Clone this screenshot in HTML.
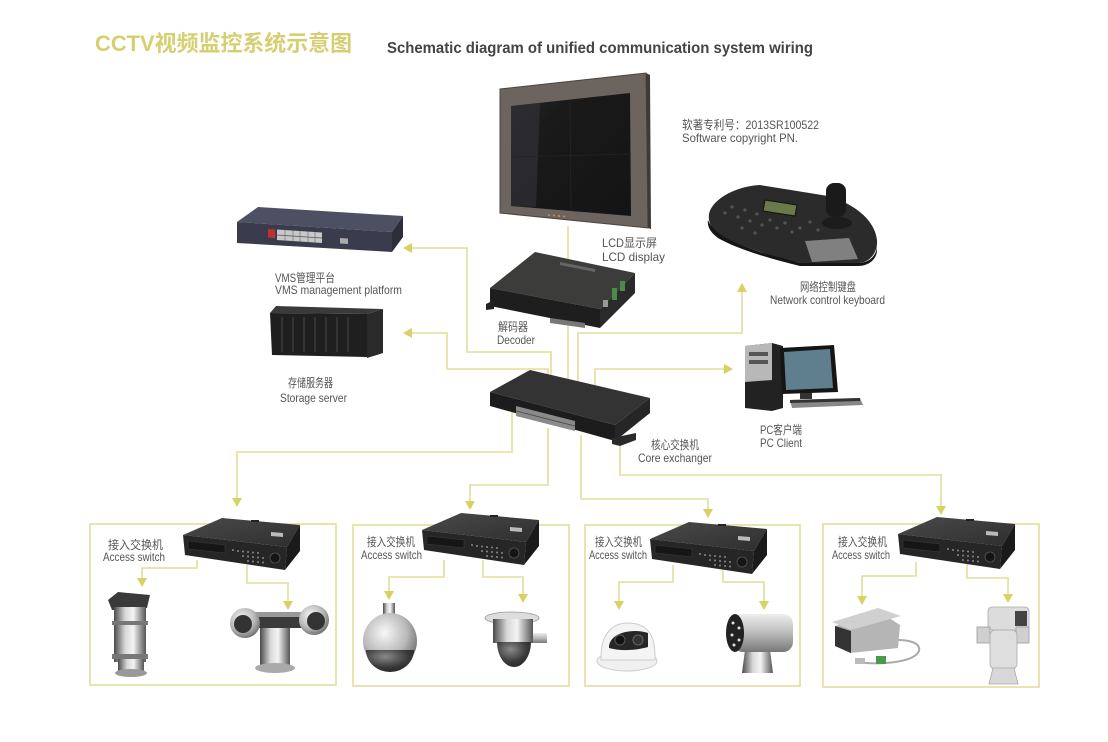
<!DOCTYPE html>
<html><head><meta charset="utf-8"><style>
html,body{margin:0;padding:0;background:#fff;}
svg{display:block;}
text{font-family:"Liberation Sans","Noto Sans CJK SC",sans-serif;}
</style></head><body>
<svg width="1108" height="742" viewBox="0 0 1108 742" xmlns="http://www.w3.org/2000/svg">
<defs>
  <linearGradient id="metalH" x1="0" y1="0" x2="1" y2="0">
    <stop offset="0" stop-color="#4a4a4a"/><stop offset="0.35" stop-color="#d8d8d8"/><stop offset="0.6" stop-color="#f4f4f4"/><stop offset="1" stop-color="#555"/>
  </linearGradient>
  <linearGradient id="metalV" x1="0" y1="0" x2="0" y2="1">
    <stop offset="0" stop-color="#eee"/><stop offset="0.5" stop-color="#bbb"/><stop offset="1" stop-color="#777"/>
  </linearGradient>
  <radialGradient id="sphere" cx="0.4" cy="0.35" r="0.7">
    <stop offset="0" stop-color="#f8f8f8"/><stop offset="0.6" stop-color="#b8b8b8"/><stop offset="1" stop-color="#6a6a6a"/>
  </radialGradient>
  <radialGradient id="darkdome" cx="0.4" cy="0.3" r="0.8">
    <stop offset="0" stop-color="#8a8a8a"/><stop offset="0.6" stop-color="#3a3a3a"/><stop offset="1" stop-color="#222"/>
  </radialGradient>
  <linearGradient id="dvrTop" x1="0" y1="0" x2="1" y2="1">
    <stop offset="0" stop-color="#4a4a4a"/><stop offset="1" stop-color="#2e2e2e"/>
  </linearGradient>
  <linearGradient id="screenG" x1="0" y1="0" x2="1" y2="1">
    <stop offset="0" stop-color="#2c2c30"/><stop offset="0.25" stop-color="#1a1a1a"/><stop offset="1" stop-color="#141414"/>
  </linearGradient>
  <g id="dvr">
    <polygon points="0,17 39,0 117,7 104,29" fill="url(#dvrTop)"/>
    <polygon points="0,17 104,29 102,52 2,37" fill="#262626"/>
    <polygon points="104,29 117,7 117,33 102,52" fill="#1a1a1a"/>
    <polygon points="5,23 42,27 42,35 5,31" fill="#161616" stroke="#3a3a3a" stroke-width="0.6"/>
    <polygon points="88,14 100,15 100,19 88,18" fill="#bbb"/>
    <rect x="68" y="2" width="8" height="2" fill="#222"/>
    <g fill="#888">
      <circle cx="50" cy="32" r="1"/><circle cx="55" cy="33" r="1"/><circle cx="60" cy="33.5" r="1"/><circle cx="65" cy="34" r="1"/><circle cx="70" cy="34.5" r="1"/><circle cx="75" cy="35" r="1"/>
      <circle cx="60" cy="38" r="1"/><circle cx="65" cy="38.5" r="1"/><circle cx="70" cy="39" r="1"/><circle cx="75" cy="39.5" r="1"/><circle cx="80" cy="40" r="1"/>
      <circle cx="65" cy="43" r="1"/><circle cx="70" cy="43.5" r="1"/><circle cx="75" cy="44" r="1"/><circle cx="80" cy="44.5" r="1"/>
    </g>
    <circle cx="92" cy="40" r="5" fill="#151515" stroke="#555" stroke-width="0.8"/>
  </g>
</defs>

<rect width="1108" height="742" fill="#fff"/>

<!-- Titles -->
<text x="95" y="51" font-size="22" font-weight="bold" fill="#d6cf72" textLength="257" lengthAdjust="spacingAndGlyphs">CCTV视频监控系统示意图</text>
<text x="387" y="53" font-size="16" font-weight="bold" fill="#444" textLength="426" lengthAdjust="spacingAndGlyphs">Schematic diagram of unified communication system wiring</text>

<!-- Connectors -->
<g fill="none" stroke="#e3dd9c" stroke-width="1.6">
  <polyline points="551,380 551,352 467,352 467,248 410,248"/>
  <polyline points="548,380 548,369 447,369 447,333 410,333"/>
  <line x1="568" y1="226" x2="568" y2="385"/>
  <polyline points="578,388 578,333 742,333 742,292"/>
  <polyline points="595,395 595,369 724,369"/>
  <polyline points="512,412 512,452 237,452 237,498"/>
  <polyline points="548,428 548,485 470,485 470,501"/>
  <polyline points="581,435 581,499 708,499 708,509"/>
  <polyline points="620,440 620,475 941,475 941,506"/>
  <!-- boxes -->
  <rect x="90" y="524" width="246" height="161"/>
  <rect x="353" y="525" width="216" height="161"/>
  <rect x="585" y="525" width="215" height="161"/>
  <rect x="823" y="524" width="216" height="163"/>
  <!-- in-box connectors -->
  <polyline points="197,560 197,568 142,568 142,578"/>
  <polyline points="247,565 247,583 288,583 288,601"/>
  <polyline points="444,560 444,577 389,577 389,591"/>
  <polyline points="483,560 483,577 523,577 523,594"/>
  <polyline points="673,565 673,582 619,582 619,601"/>
  <polyline points="723,565 723,582 764,582 764,601"/>
  <polyline points="916,562 916,576 862,576 862,596"/>
  <polyline points="967,562 967,578 1008,578 1008,594"/>
</g>
<g fill="#d8d163">
  <polygon points="412,243 412,253 403,248"/>
  <polygon points="412,328 412,338 403,333"/>
  <polygon points="737,292 747,292 742,283"/>
  <polygon points="724,364 724,374 733,369"/>
  <polygon points="232,498 242,498 237,507"/>
  <polygon points="465,501 475,501 470,510"/>
  <polygon points="703,509 713,509 708,518"/>
  <polygon points="936,506 946,506 941,515"/>
  <polygon points="137,578 147,578 142,587"/>
  <polygon points="283,601 293,601 288,610"/>
  <polygon points="384,591 394,591 389,600"/>
  <polygon points="518,594 528,594 523,603"/>
  <polygon points="614,601 624,601 619,610"/>
  <polygon points="759,601 769,601 764,610"/>
  <polygon points="857,596 867,596 862,605"/>
  <polygon points="1003,594 1013,594 1008,603"/>
</g>

<!-- LCD monitor -->
<polygon points="500,89 646,73 648,228 500,213" fill="#6c645e" stroke="#4a4440" stroke-width="1"/>
<polygon points="646,73 650,75 651,229 648,228" fill="#3e3a37"/>
<polygon points="511,106 630,93 631,216 511,206" fill="url(#screenG)"/>
<polygon points="511,106 540,103 536,207 511,206" fill="#2e2e33" opacity="0.8"/>
<line x1="570" y1="100" x2="571" y2="211" stroke="#242424" stroke-width="0.8"/>
<line x1="511" y1="157" x2="631" y2="154" stroke="#242424" stroke-width="0.8"/>
<g fill="#d08a50"><circle cx="549" cy="215" r="1"/><circle cx="554" cy="215.5" r="1"/><circle cx="559" cy="216" r="1"/><circle cx="564" cy="216.5" r="1"/></g>

<!-- Decoder -->
<polygon points="490,288 535,252 635,273 600,309" fill="#3c3c3a"/>
<polygon points="490,288 600,309 600,328 490,306" fill="#1e1e1e"/>
<polygon points="600,309 635,273 635,293 600,328" fill="#2a2a2a"/>
<polygon points="486,304 494,300 494,309 486,310" fill="#222"/>
<polygon points="550,318 585,323 585,328 550,323" fill="#777"/>
<rect x="612" y="288" width="5" height="12" fill="#4a8a4a"/>
<rect x="620" y="281" width="5" height="10" fill="#4a8a4a"/>
<rect x="603" y="300" width="5" height="7" fill="#999"/>
<polygon points="560,262 595,269 595,272 560,265" fill="#666"/>

<!-- VMS switch -->
<polygon points="237,222 258,207 403,216 392,232" fill="#4d5062"/>
<polygon points="237,222 392,232 392,252 237,243" fill="#3a3c4d"/>
<polygon points="392,232 403,216 403,237 392,252" fill="#2c2e3a"/>
<polygon points="268,229 275,229.5 275,238 268,237.5" fill="#c03030"/>
<polygon points="277,229.5 322,232.5 322,243 277,240" fill="#c8c8c8"/>
<line x1="277" y1="235" x2="322" y2="238" stroke="#555" stroke-width="0.8"/>
<g stroke="#666" stroke-width="0.6"><line x1="285" y1="230" x2="285" y2="241"/><line x1="293" y1="230.5" x2="293" y2="241.5"/><line x1="300" y1="231" x2="300" y2="242"/><line x1="308" y1="231.5" x2="308" y2="242.5"/><line x1="315" y1="232" x2="315" y2="243"/></g>
<polygon points="340,238 348,238.5 348,244 340,243.5" fill="#aaa"/>

<!-- Storage server -->
<polygon points="270,313 276,306 383,309 367,314" fill="#3a3a3a"/>
<polygon points="270,313 367,314 367,357 272,355" fill="#1f1f1f"/>
<polygon points="367,314 383,309 383,353 367,358" fill="#2a2a2a"/>
<g stroke="#4a4a4a" stroke-width="1">
  <line x1="282" y1="317" x2="282" y2="352"/><line x1="293" y1="317" x2="293" y2="352"/><line x1="304" y1="317" x2="304" y2="352"/><line x1="315" y1="317" x2="315" y2="352"/><line x1="326" y1="317" x2="326" y2="352"/><line x1="337" y1="317" x2="337" y2="352"/><line x1="348" y1="317" x2="348" y2="352"/>
</g>

<!-- Core switch -->
<polygon points="490,392 530,370 650,398 615,425" fill="#333"/>
<polygon points="490,392 615,425 615,441 490,406" fill="#1c1c1c"/>
<polygon points="615,425 650,398 650,413 615,441" fill="#262626"/>
<polygon points="612,438 636,433 636,440 620,446 612,444" fill="#2a2a2a"/>
<polygon points="516,406 575,421 575,431 516,416" fill="#8a8a8a"/>
<line x1="516" y1="411" x2="575" y2="426" stroke="#444" stroke-width="0.8"/>

<!-- Keyboard -->
<path d="M712,207 C720,195 740,186 760,185 L828,196 C858,205 875,222 877,240 C878,252 870,263 858,263 L800,263 C770,256 740,246 722,237 C708,229 706,215 712,207 Z" fill="#2b2b2b"/>
<path d="M708,220 C712,232 730,242 760,252 L800,263 L858,263 C870,263 877,255 877,245 L877,250 C877,258 870,266 858,266 L800,266 C770,259 735,248 718,238 C710,232 707,226 708,220 Z" fill="#151515"/>
<polygon points="765,200 797,205 795,216 763,211" fill="#6b7a4a" stroke="#111" stroke-width="1"/>
<polygon points="805,241 849,238 858,259 812,262" fill="#808080"/>
<ellipse cx="837" cy="223" rx="15" ry="6" fill="#1c1c1c"/>
<rect x="826" y="183" width="20" height="34" rx="8" fill="#1a1a1a"/>
<g fill="#555">
  <circle cx="725" cy="213" r="1.6"/><circle cx="732" cy="207" r="1.6"/><circle cx="738" cy="217" r="1.6"/><circle cx="745" cy="210" r="1.6"/><circle cx="750" cy="221" r="1.6"/><circle cx="757" cy="214" r="1.6"/><circle cx="762" cy="225" r="1.6"/><circle cx="770" cy="220" r="1.6"/><circle cx="777" cy="228" r="1.6"/><circle cx="785" cy="223" r="1.6"/><circle cx="792" cy="232" r="1.6"/><circle cx="800" cy="228" r="1.6"/><circle cx="810" cy="222" r="1.6"/><circle cx="818" cy="230" r="1.6"/><circle cx="742" cy="228" r="1.6"/><circle cx="755" cy="233" r="1.6"/>
</g>

<!-- PC -->
<polygon points="745,346 772,343 783,346 783,408 772,411 745,408" fill="#222"/>
<polygon points="745,346 772,343 772,380 745,382" fill="#b8b8b8"/>
<rect x="749" y="352" width="19" height="4" fill="#555"/>
<rect x="749" y="360" width="19" height="4" fill="#555"/>
<polygon points="780,348 834,345 838,392 782,394" fill="#151515"/>
<polygon points="784,352 830,349 833,388 786,390" fill="#5f7f8e"/>
<rect x="800" y="393" width="12" height="6" fill="#333"/>
<polygon points="790,400 860,398 863,405 792,408" fill="#888"/>
<polygon points="790,400 860,398 860,401 790,403" fill="#333"/>

<!-- DVRs -->
<use href="#dvr" x="183" y="518"/>
<use href="#dvr" x="422" y="513"/>
<use href="#dvr" x="650" y="522"/>
<use href="#dvr" x="898" y="517"/>

<!-- Box1 cameras -->
<polygon points="108,600 118,592 150,595 147,608 112,610" fill="#3a3a3a"/>
<rect x="114" y="607" width="32" height="55" fill="url(#metalH)"/>
<rect x="112" y="621" width="36" height="4" fill="#777"/>
<rect x="112" y="654" width="36" height="5" fill="#777"/>
<rect x="118" y="659" width="26" height="13" fill="url(#metalH)"/>
<ellipse cx="131" cy="673" rx="16" ry="4" fill="#999"/>
<rect x="260" y="628" width="30" height="40" fill="url(#metalH)"/>
<ellipse cx="275" cy="668" rx="20" ry="5" fill="#aaa"/>
<rect x="250" y="612" width="60" height="16" fill="#3a3a3a"/>
<rect x="250" y="612" width="60" height="5" fill="#999"/>
<circle cx="245" cy="623" r="15" fill="url(#sphere)"/>
<circle cx="243" cy="624" r="9" fill="#333"/>
<circle cx="314" cy="620" r="15" fill="url(#sphere)"/>
<circle cx="316" cy="621" r="9" fill="#333"/>

<!-- Box2 cameras -->
<rect x="383" y="603" width="12" height="14" fill="url(#metalH)"/>
<ellipse cx="390" cy="641" rx="27" ry="28" fill="url(#sphere)"/>
<path d="M366,650 A24,22 0 0 0 414,650 Z" fill="url(#darkdome)"/>
<ellipse cx="512" cy="618" rx="27" ry="6" fill="#ddd" stroke="#999" stroke-width="0.8"/>
<rect x="493" y="619" width="40" height="24" fill="url(#metalH)"/>
<rect x="533" y="633" width="14" height="10" fill="url(#metalV)"/>
<path d="M497,642 A17,25 0 0 0 531,642 Z" fill="url(#darkdome)"/>

<!-- Box3 cameras -->
<ellipse cx="627" cy="661" rx="30" ry="10" fill="#f0f0f0" stroke="#ccc" stroke-width="1"/>
<path d="M601,660 C600,632 614,623 628,623 C646,623 656,633 655,660 Z" fill="#f4f4f4" stroke="#ccc" stroke-width="1"/>
<path d="M609,646 C611,632 633,628 648,633 L648,647 C633,651 620,651 609,648 Z" fill="#262626"/>
<circle cx="620" cy="640" r="5" fill="#111" stroke="#555" stroke-width="1"/>
<circle cx="638" cy="640" r="5" fill="#333" stroke="#666" stroke-width="1"/>
<polygon points="745,650 770,650 773,673 742,673" fill="url(#metalH)"/>
<rect x="733" y="614" width="60" height="38" rx="10" fill="url(#metalV)"/>
<ellipse cx="735" cy="633" rx="9" ry="19" fill="#222"/>
<g fill="#ddd"><circle cx="733" cy="623" r="1.5"/><circle cx="739" cy="628" r="1.5"/><circle cx="732" cy="635" r="1.5"/><circle cx="739" cy="640" r="1.5"/><circle cx="734" cy="645" r="1.5"/></g>

<!-- Box4 cameras -->
<path d="M898,640 C925,640 925,655 905,660 C890,664 870,664 858,662" fill="none" stroke="#aaa" stroke-width="2"/>
<rect x="876" y="656" width="10" height="8" fill="#4a9a4a"/>
<rect x="855" y="658" width="10" height="6" fill="#bbb"/>
<polygon points="835,626 880,612 900,625 898,648 850,653 835,646" fill="#b5b5b5"/>
<polygon points="832,622 878,608 901,616 851,630" fill="#d0d0d0"/>
<polygon points="835,626 851,631 851,653 835,646" fill="#333"/>
<rect x="988" y="607" width="41" height="23" rx="4" fill="#dcdcdc" stroke="#aaa" stroke-width="0.8"/>
<rect x="1015" y="611" width="12" height="15" fill="#444"/>
<rect x="977" y="627" width="13" height="16" fill="#d0d0d0" stroke="#999" stroke-width="0.8"/>
<rect x="1016" y="627" width="13" height="16" fill="#d0d0d0" stroke="#999" stroke-width="0.8"/>
<rect x="990" y="630" width="27" height="39" rx="5" fill="#dedede" stroke="#aaa" stroke-width="0.8"/>
<polygon points="993,668 1014,668 1018,684 989,684" fill="#d8d8d8" stroke="#aaa" stroke-width="0.8"/>

<!-- Labels -->
<g font-size="12" fill="#555">
  <text x="682" y="129" textLength="137" lengthAdjust="spacingAndGlyphs">软著专利号：2013SR100522</text>
  <text x="682" y="142" textLength="116" lengthAdjust="spacingAndGlyphs">Software copyright PN.</text>
  <text x="602" y="247" textLength="55" lengthAdjust="spacingAndGlyphs">LCD显示屏</text>
  <text x="602" y="261" textLength="63" lengthAdjust="spacingAndGlyphs">LCD display</text>
  <text x="275" y="282" textLength="60" lengthAdjust="spacingAndGlyphs">VMS管理平台</text>
  <text x="275" y="294" textLength="127" lengthAdjust="spacingAndGlyphs">VMS management platform</text>
  <text x="498" y="331" textLength="30" lengthAdjust="spacingAndGlyphs">解码器</text>
  <text x="497" y="344" textLength="38" lengthAdjust="spacingAndGlyphs">Decoder</text>
  <text x="800" y="291" textLength="56" lengthAdjust="spacingAndGlyphs">网络控制键盘</text>
  <text x="770" y="304" textLength="115" lengthAdjust="spacingAndGlyphs">Network control keyboard</text>
  <text x="288" y="387" textLength="45" lengthAdjust="spacingAndGlyphs">存储服务器</text>
  <text x="280" y="402" textLength="67" lengthAdjust="spacingAndGlyphs">Storage server</text>
  <text x="760" y="434" textLength="42" lengthAdjust="spacingAndGlyphs">PC客户端</text>
  <text x="760" y="447" textLength="42" lengthAdjust="spacingAndGlyphs">PC Client</text>
  <text x="651" y="449" textLength="48" lengthAdjust="spacingAndGlyphs">核心交换机</text>
  <text x="638" y="462" textLength="74" lengthAdjust="spacingAndGlyphs">Core exchanger</text>
  <text x="108" y="549" textLength="55" lengthAdjust="spacingAndGlyphs">接入交换机</text>
  <text x="103" y="561" textLength="62" lengthAdjust="spacingAndGlyphs">Access switch</text>
  <text x="367" y="546" textLength="48" lengthAdjust="spacingAndGlyphs">接入交换机</text>
  <text x="361" y="559" textLength="61" lengthAdjust="spacingAndGlyphs">Access switch</text>
  <text x="595" y="546" textLength="47" lengthAdjust="spacingAndGlyphs">接入交换机</text>
  <text x="589" y="559" textLength="58" lengthAdjust="spacingAndGlyphs">Access switch</text>
  <text x="838" y="546" textLength="49" lengthAdjust="spacingAndGlyphs">接入交换机</text>
  <text x="832" y="559" textLength="58" lengthAdjust="spacingAndGlyphs">Access switch</text>
</g>
</svg>
</body></html>
